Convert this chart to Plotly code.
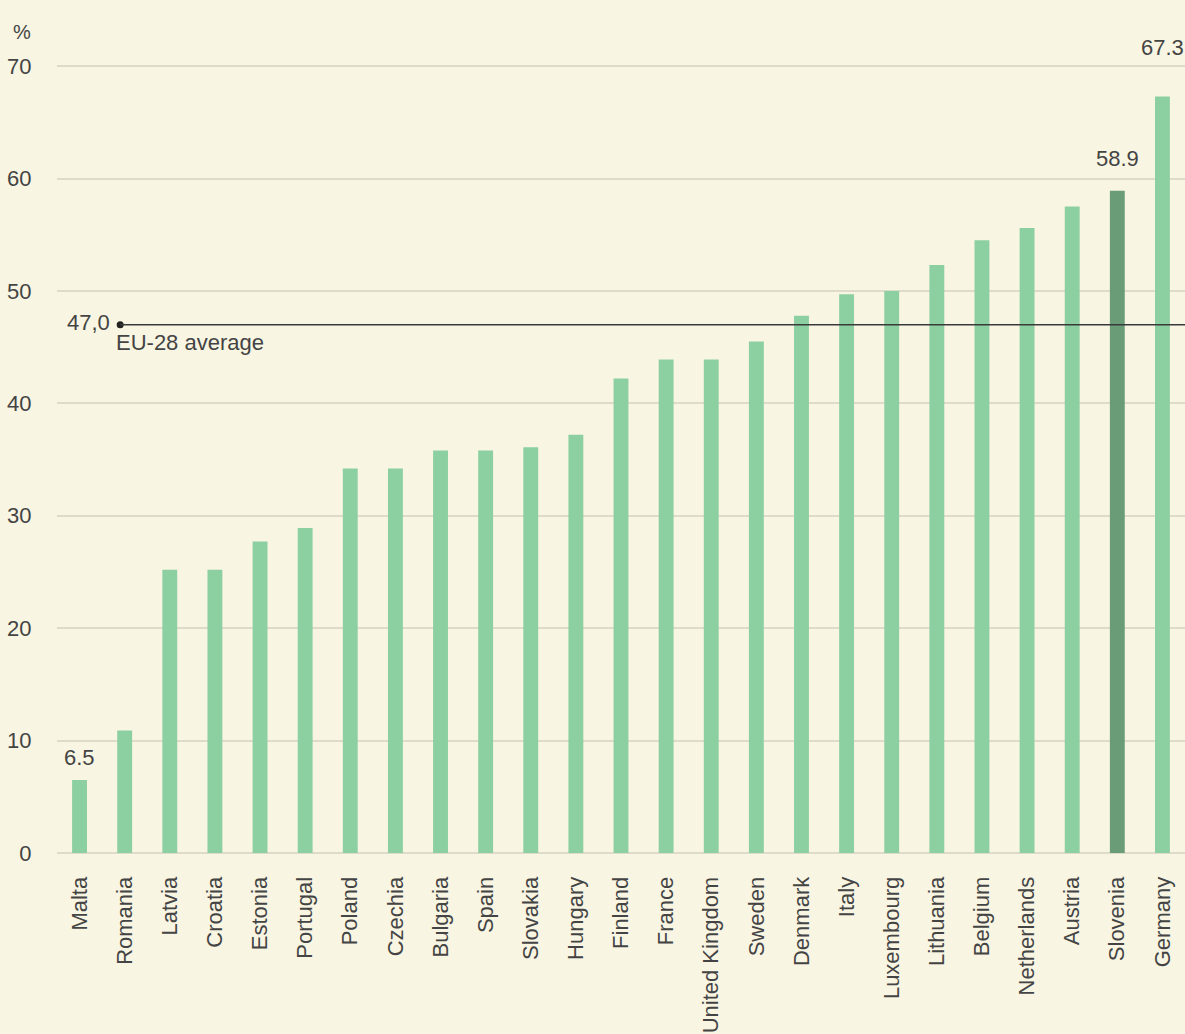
import plotly.graph_objects as go

countries = ["Malta", "Romania", "Latvia", "Croatia", "Estonia", "Portugal", "Poland",
             "Czechia", "Bulgaria", "Spain", "Slovakia", "Hungary", "Finland", "France",
             "United Kingdom", "Sweden", "Denmark", "Italy", "Luxembourg", "Lithuania",
             "Belgium", "Netherlands", "Austria", "Slovenia", "Germany"]
values = [6.5, 10.9, 25.2, 25.2, 27.7, 28.9, 34.2, 34.2, 35.8, 35.8, 36.1, 37.2, 42.2,
          43.9, 43.9, 45.5, 47.8, 49.7, 50.0, 52.3, 54.5, 55.6, 57.5, 58.9, 67.3]
labelled = ["Malta", "Slovenia", "Germany"]
label_shift = [8, 18, 34]
highlight = "Slovenia"
eu_average = 47.0
eu_label = "47,0"
eu_text = "EU-28 average"
y_ticks = [0, 10, 20, 30, 40, 50, 60, 70]

BG = "#f8f5e2"
BAR = "#8ccfa0"
BAR_DARK = "#6b9c78"
TXT = "#444444"
FONT = "Liberation Sans, Arial, sans-serif"
FS = 22

xs = list(range(len(countries)))
colors = [BAR_DARK if c == highlight else BAR for c in countries]

fig = go.Figure()
fig.add_trace(go.Bar(x=xs, y=values, marker=dict(color=colors, line=dict(width=0)),
                     width=0.33, hoverinfo="x+y"))

# EU average line
fig.add_shape(type="line", xref="x", yref="y", x0=0.9, x1=24.6, y0=eu_average, y1=eu_average,
              line=dict(color="#3a3a3a", width=1.5))
fig.add_trace(go.Scatter(x=[0.9], y=[eu_average], mode="markers",
                         marker=dict(color="#222222", size=7), hoverinfo="skip"))
fig.add_annotation(x=0.9, y=eu_average, xref="x", yref="y", text=eu_label, showarrow=False,
                   xanchor="right", yanchor="middle", xshift=-8, yshift=2,
                   font=dict(size=FS, color=TXT, family=FONT))
fig.add_annotation(x=0.9, y=eu_average, xref="x", yref="y", text=eu_text, showarrow=False,
                   xanchor="left", yanchor="top", xshift=-6, yshift=-3,
                   font=dict(size=FS, color=TXT, family=FONT))

for name, shift in zip(labelled, label_shift):
    i = countries.index(name)
    fig.add_annotation(x=xs[i], y=values[i], xref="x", yref="y", text=f"{values[i]:.1f}",
                       showarrow=False, xanchor="center", yanchor="bottom", yshift=shift,
                       font=dict(size=FS, color=TXT, family=FONT))

fig.add_annotation(x=0, y=1, xref="paper", yref="paper", text="%", showarrow=False,
                   xanchor="left", yanchor="top", xshift=-46, yshift=1,
                   font=dict(size=FS - 2, color=TXT, family=FONT))

fig.update_layout(
    width=1185, height=1034,
    paper_bgcolor=BG, plot_bgcolor=BG,
    margin=dict(l=57, r=0, t=20, b=181),
    showlegend=False,
    bargap=0.67,
    font=dict(family=FONT, size=FS, color=TXT),
    xaxis=dict(tickmode="array", tickvals=xs, ticktext=countries, tickangle=-90,
               range=[-0.5, 24.5], showgrid=False, zeroline=False, showline=False,
               ticks="outside", ticklen=14, tickcolor="rgba(0,0,0,0)",
               tickfont=dict(size=FS, color=TXT, family=FONT), fixedrange=True),
    yaxis=dict(range=[0, 74.1], tickvals=y_ticks, showgrid=True, gridcolor="#dedbcb",
               gridwidth=1.5, zeroline=True, zerolinecolor="#dedbcb", zerolinewidth=1.5,
               showline=False, ticks="outside", ticklen=20, tickcolor="rgba(0,0,0,0)",
               tickfont=dict(size=FS, color=TXT, family=FONT), fixedrange=True),
)

fig.write_html("out.html", config={"displayModeBar": False},
               post_script="document.body.style.margin='0';document.body.style.overflow='hidden';")
